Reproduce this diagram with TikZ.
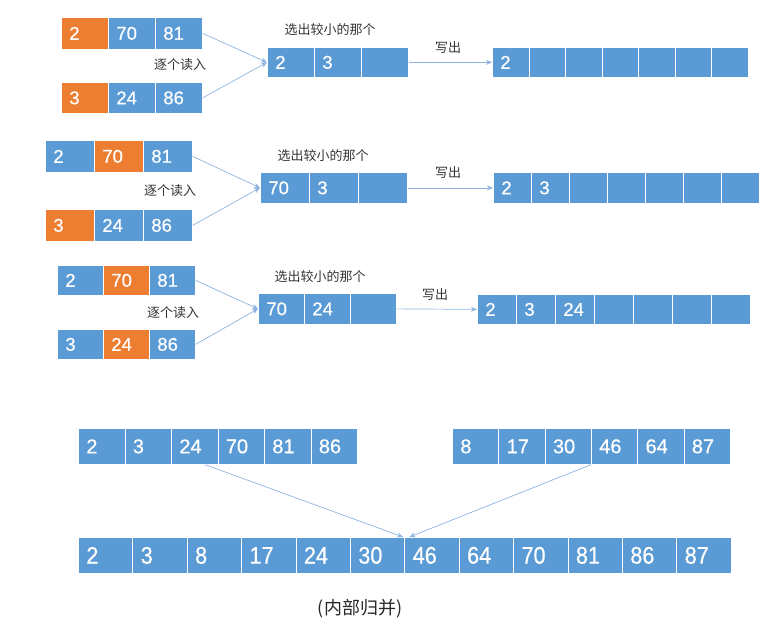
\documentclass[tikz,border=0pt]{standalone}
\usepackage{fontspec}
\setmainfont{Liberation Sans}
\newfontfamily\cjk{Noto Sans CJK SC}
\newfontfamily\numfont[FakeBold=0.5]{Liberation Sans}
\newfontfamily\numcond[FakeStretch=0.9,FakeBold=0.5]{Liberation Sans}
\usetikzlibrary{arrows.meta,calc}
\definecolor{cblue}{HTML}{5B9BD5}
\definecolor{corg}{HTML}{ED7D31}
\definecolor{cline}{HTML}{8DB4DF}
\definecolor{ctxt}{HTML}{333333}
\tikzset{
  cell/.style={draw=white, line width=0.7pt, inner xsep=8pt, inner ysep=0pt, align=left, text=white, anchor=north west},
  conn/.style={draw=cline, line width=0.7pt, -{Stealth[length=6pt,width=5pt]}},
  lbl/.style={font=\cjk\fontsize{13}{13}\selectfont, text=ctxt},
  biglbl/.style={font=\cjk\fontsize{18}{18}\selectfont, text=black!85},
}
\newcommand\cellrow[7]{%
  \pgfmathsetmacro\cw{#4-16}%
  \foreach \v/\c [count=\i] in {#7} {%
    \node[cell, fill=\c, font=#6, text width=\cw pt, minimum height=#5pt] (#1-\i) at ({#2+(\i-1)*#4},#3) {\v};
  }%
}
\newcommand\nfa{\numfont\fontsize{18.5}{19}\selectfont}
\newcommand\nfb{\numfont\fontsize{20}{21}\selectfont}
\newcommand\nfc{\numcond\fontsize{24}{25}\selectfont}
\begin{document}
\begin{tikzpicture}[x=1pt,y=-1pt]
\path[use as bounding box] (0,0) rectangle (770,633);
% ---------- row 1
\cellrow{a1}{61}{17}{47}{32}{\nfa}{2/corg,70/cblue,81/cblue}
\cellrow{b1}{61}{82}{47}{31}{\nfa}{3/corg,24/cblue,86/cblue}
\cellrow{m1}{267}{47}{47}{30}{\nfa}{2/cblue,3/cblue,{}/cblue}
\cellrow{o1}{492}{47}{36.57}{30}{\nfa}{2/cblue,{}/cblue,{}/cblue,{}/cblue,{}/cblue,{}/cblue,{}/cblue}
\node[lbl] (r1read) at (180,65) {逐个读入};
\node[lbl] (r1sel) at (330,30) {选出较小的那个};
\node[lbl] (r1out) at (448,48) {写出};
\draw[conn] (a1-3.east) -- (m1-1.west);
\draw[conn] (b1-3.east) -- (m1-1.west);
\draw[conn] (m1-3.east) -- (o1-1.west);
% ---------- row 2
\cellrow{a2}{45}{140}{49}{32}{\nfa}{2/cblue,70/corg,81/cblue}
\cellrow{b2}{45}{209}{49}{32}{\nfa}{3/corg,24/cblue,86/cblue}
\cellrow{m2}{260}{172}{49}{31}{\nfa}{70/cblue,3/cblue,{}/cblue}
\cellrow{o2}{493}{172}{38}{31}{\nfa}{2/cblue,3/cblue,{}/cblue,{}/cblue,{}/cblue,{}/cblue,{}/cblue}
\node[lbl] (r2read) at (170,191) {逐个读入};
\node[lbl] (r2sel) at (323,156) {选出较小的那个};
\node[lbl] (r2out) at (448,173) {写出};
\draw[conn] (a2-3.east) -- (m2-1.west);
\draw[conn] (b2-3.east) -- (m2-1.west);
\draw[conn] (m2-3.east) -- (o2-1.west);
% ---------- row 3
\cellrow{a3}{57}{265}{46}{30}{\nfa}{2/cblue,70/corg,81/cblue}
\cellrow{b3}{57}{329}{46}{30}{\nfa}{3/cblue,24/corg,86/cblue}
\cellrow{m3}{258}{293}{46}{31}{\nfa}{70/cblue,24/cblue,{}/cblue}
\cellrow{o3}{477}{294}{39}{30}{\nfa}{2/cblue,3/cblue,24/cblue,{}/cblue,{}/cblue,{}/cblue,{}/cblue}
\node[lbl] (r3read) at (173,313) {逐个读入};
\node[lbl] (r3sel) at (320,277) {选出较小的那个};
\node[lbl] (r3out) at (435,295) {写出};
\draw[conn] (a3-3.east) -- (m3-1.west);
\draw[conn] (b3-3.east) -- (m3-1.west);
\draw[conn] (m3-3.east) -- (o3-1.west);
% ---------- internal merge
\cellrow{L}{78}{428}{46.5}{36}{\nfb}{2/cblue,3/cblue,24/cblue,70/cblue,81/cblue,86/cblue}
\cellrow{R}{452}{428}{46.3}{36}{\nfb}{8/cblue,17/cblue,30/cblue,46/cblue,64/cblue,87/cblue}
\cellrow{M}{78}{537}{54.4}{36}{\nfc}{2/cblue,3/cblue,8/cblue,17/cblue,24/cblue,30/cblue,46/cblue,64/cblue,70/cblue,81/cblue,86/cblue,87/cblue}
\draw[conn] ($(L-3.south)!0.45!(L-3.south east)$) -- ($(M-6.north east)+(-2,0)$);
\draw[conn] (R-4.south west) -- ($(M-7.north west)+(5,0)$);
\node[biglbl] (cap) at (360,609) {(内部归并)};
\end{tikzpicture}
\end{document}
